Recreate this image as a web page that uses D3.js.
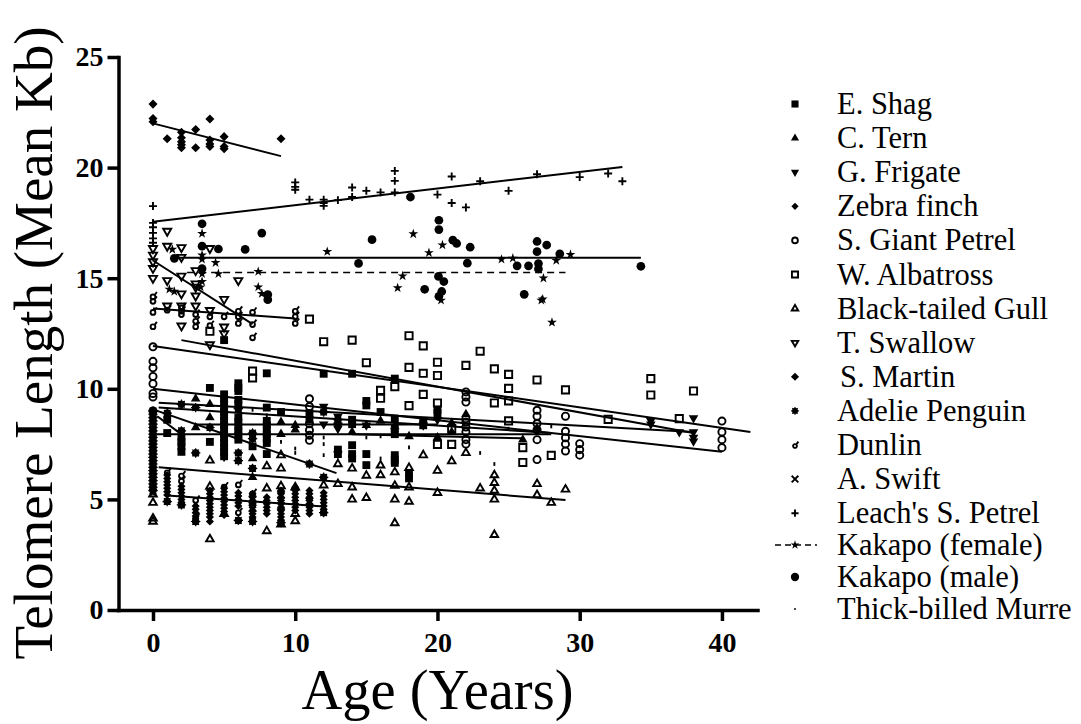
<!DOCTYPE html>
<html>
<head>
<meta charset="utf-8">
<script src="https://cdn.jsdelivr.net/npm/d3@7/dist/d3.min.js"></script>
<style>
    html, body { margin: 0; padding: 0; background: #fff; }
    svg text { font-family: "Liberation Serif", serif; fill: #000; }
</style>
</head>
<body>
<div id="chart"></div>
<script>
// Values, as [age, [mean kb, ...]] columns.
const shag = [
    [1, [8.6, 8.0]], [2, [7.8, 7.6, 7.4, 7.15]], [4, [10.04, 7.6]],
    [5, [12.2, 9.75, 9.55, 9.35, 9.15, 8.95, 8.75, 8.55, 8.35, 8.15, 7.95, 7.75, 7.55, 7.35, 7.15, 6.95]],
    [6, [10.25, 10.05, 9.9, 9.5, 9.3, 8.7, 8.5, 8.3, 8.1, 7.9, 7.7]], [7, [7.4]],
    [8, [10.7, 9.15, 8.55, 8.35, 8.15, 7.95, 7.75, 7.55, 7.05]], [9, [8.95]], [11, [8.9, 8.6]],
    [12, [10.68]], [13, [7.25, 7.05]], [14, [10.68, 8.6, 8.4, 7.45, 7.05, 6.85]],
    [15, [9.45, 9.25, 7.05, 6.55]], [16, [8.95]], [17, [10.46, 8.65, 8.2, 7.95, 7.0, 6.8, 6.65]],
    [18, [6.2, 5.95]], [19, [8.55, 8.35]], [20, [9.05, 8.9]],
]
const tern = [
    [3, [9.55, 8.25]], [4, [9.3, 8.7]], [7, [6.85, 6.0]], [9, [8.5, 7.95]], [10, [8.35, 8.15]],
    [14, [8.05]], [15, [8.35]], [16, [8.55]], [17, [8.3]], [18, [7.85]], [20, [7.8]],
    [21, [8.45, 8.05]], [22, [8.85]], [26, [7.7]], [27, [8.2]],
]
const frigate = [
    [12, [9.2, 8.4]], [13, [8.75, 8.35, 8.2, 7.05]], [15, [8.35]], [19, [8.35]], [20, [8.6]],
    [35, [8.55, 8.4]], [37, [8.05]], [38, [8.68, 8.05, 7.8, 7.63]],
]
const zebraFinch = [
    [0, [22.87, 22.22, 22.07]], [1, [21.3]], [2, [21.6, 21.35, 21.17, 21.03, 20.9]], [3, [21.72, 20.9]],
    [4, [22.2, 21.25, 21.07, 20.95]], [5, [21.4, 20.95, 20.85]], [9, [21.3]],
]
const giantPetrel = [
    [0, [11.9, 11.24, 10.95, 10.56, 10.23, 9.79, 9.63, 9.0]],
    [11, [9.55, 9.2, 8.42, 8.13, 7.9, 7.67]],
    [22, [9.86, 9.63, 9.4, 8.65, 8.5, 8.27, 8.05, 7.7, 7.5]],
    [27, [9.03, 8.76, 8.43, 8.15, 7.7, 6.8]],
    [29, [8.76, 8.08, 7.79, 7.5, 7.19]], [30, [7.52, 7.25, 7.0]],
    [40, [8.54, 8.05, 7.7, 7.34]],
]
const albatross = [
    [4, [12.6]], [7, [10.8, 10.49]], [11, [13.15]], [12, [12.13]], [14, [12.2]], [15, [11.18]],
    [16, [9.93, 9.57]], [17, [10.1]], [18, [12.4, 10.97, 9.24]], [19, [11.94, 10.7, 9.75]],
    [20, [11.2, 10.6, 9.36, 7.49]], [21, [8.2, 7.49]], [22, [11.06]], [23, [11.7]], [24, [10.9, 9.36]],
    [25, [10.65, 10.02, 9.45, 8.55]], [26, [7.34, 6.67]], [27, [10.4]], [28, [6.99]], [29, [9.95]],
    [32, [8.62]], [35, [10.46, 9.72]], [37, [8.65]], [38, [9.9]],
]
const gull = [
    [0, [5.23, 4.85, 4.14, 4.0]], [4, [6.76, 5.58, 3.2]], [5, [4.35]], [8, [6.5, 5.5, 3.57]],
    [9, [7.0, 6.4, 5.6, 3.87]], [10, [5.55, 4.35, 4.02]], [12, [5.64]], [13, [6.6, 5.7]],
    [14, [6.4, 5.55, 5.0]], [15, [6.08, 5.07]], [16, [6.54, 6.1]], [17, [6.23, 5.62, 5.0, 3.93]],
    [18, [6.43, 5.55, 4.9]], [19, [7.0]], [20, [6.3, 5.3]], [21, [6.73]], [22, [7.1]], [23, [5.5]],
    [24, [6.1, 5.75, 5.4, 5.0, 3.4]], [27, [5.7, 5.2]], [28, [4.85]], [29, [5.45]],
]
const swallow = [
    [0, [16.35, 16.05, 15.75, 15.45, 15.0]], [1, [17.13, 16.45, 14.9, 13.75]],
    [2, [16.39, 15.95, 15.1, 14.3, 13.75, 12.85]], [3, [15.35, 14.75, 14.6, 14.2, 13.75]],
    [4, [16.35, 13.55, 12.0]], [5, [14.05, 12.8, 12.5]], [6, [14.9]],
]
const martin = [
    [1, [6.1, 5.95, 5.8, 5.65, 5.5, 5.35, 5.2]],
    [2, [5.6, 5.45, 5.3, 5.15, 5.0, 4.85]],
    [3, [4.7, 4.55, 4.4, 4.25]],
    [4, [5.4, 5.25, 5.1, 4.95, 4.8, 4.65, 4.5, 4.35, 4.2, 4.0]],
    [5, [5.5, 5.35, 5.2, 5.05, 4.9, 4.75, 4.6, 4.45, 4.3]],
    [6, [5.3, 5.15, 5.0, 4.85, 4.7]],
    [7, [5.25, 5.1, 4.95, 4.8, 4.65, 4.5, 4.35, 4.2]],
    [8, [5.1, 4.95, 4.8, 4.65, 4.5, 4.35]],
    [9, [5.4, 5.25, 5.1, 4.95, 4.8, 4.65, 4.5, 4.35, 4.2, 4.05]],
    [10, [5.55, 5.4, 5.25, 5.1, 4.95, 4.8, 4.65, 4.5]],
    [11, [5.4, 5.25, 5.1, 4.95, 4.8, 4.65, 4.5, 4.35]],
    [12, [5.3, 5.15, 5.0, 4.85, 4.7, 4.55, 4.42]],
]
const adelie = [
    [0, [9.0, 8.85, 8.7, 8.55, 8.4, 8.25, 8.1, 7.95, 7.8, 7.65, 7.5, 7.35, 7.2, 7.05, 6.9, 6.75, 6.6,
         6.45, 6.3, 6.15, 6.0, 5.85, 5.7, 5.55, 5.4]],
    [1, [8.9, 4.9]], [2, [9.3, 8.1, 4.75]], [3, [9.15, 7.1, 4.0]], [4, [8.25]], [6, [9.1, 7.1, 6.75, 4.05]],
    [7, [8.0, 7.75, 6.4, 4.0]], [9, [3.95]], [11, [6.6]], [12, [8.95, 6.0, 4.4]], [13, [8.6, 8.4]],
]
const dunlin = [
    [0, [14.2, 14.0, 13.5, 12.85]], [1, [13.6, 6.25]], [2, [13.7, 13.55, 13.4, 6.1, 5.87]],
    [3, [13.4, 13.1, 12.85, 5.0, 4.2]], [4, [13.3, 12.9]], [5, [13.3, 5.6]], [6, [13.55, 13.3, 13.0, 5.7, 4.44]],
    [7, [13.5, 12.95, 12.35, 5.3]], [10, [13.55, 13.3, 13.0]],
]
const swift = [[0, [5.3]], [7, [5.0, 4.6]], [9, [5.2, 4.7]], [11, [4.9]]]
const leach = [
    [0, [18.26, 17.5, 17.3, 17.05, 16.8, 16.6]], [10, [19.33, 19.13, 19.0]], [11, [18.55]],
    [12, [18.55, 18.4, 18.27]], [13, [18.53]], [14, [19.1, 18.67]], [15, [18.95]], [16, [18.88]],
    [17, [19.85, 19.4, 18.88]], [20, [18.78]], [21, [19.6, 18.4]], [22, [18.2]], [23, [19.38]],
    [25, [18.95]], [27, [19.7]], [30, [19.57]], [32, [19.73]], [33, [19.38]],
]
const kakapoFemale = [
    [1.15, [14.5]], [1.36, [16.3]], [1.5, [14.4]], [3.35, [14.6]], [3.45, [17.02, 16.04, 15.85, 15.2, 14.85]],
    [4.4, [15.7]], [4.6, [15.2]], [7.4, [15.3, 14.6]], [7.65, [14.3]], [12.25, [16.2]], [17.2, [14.56]],
    [17.55, [15.1]], [18.3, [17.0]], [19.4, [16.15]], [20.25, [14.0]], [20.35, [16.5]], [24.5, [15.85]],
    [25.3, [15.9]], [27.3, [14.0]], [27.4, [14.05]], [27.45, [15.0]], [28.05, [13.0]], [28.35, [15.8]], [29.35, [16.07]],
]
const kakapoMale = [
    [1.5, [15.9]], [3.45, [17.46, 16.45, 15.43]], [4.6, [16.32]], [6.48, [16.3]], [7.65, [17.04]], [8.07, [14.26, 14.03]],
    [14.45, [15.67]], [15.4, [16.74]], [18.1, [18.67]], [19.1, [14.5]], [20.07, [15.08]], [20.1, [17.62, 17.2, 14.18]],
    [20.3, [14.4]], [20.45, [14.85]], [21.08, [16.72]], [21.35, [16.57]], [22.1, [15.68]], [22.3, [16.4]],
    [25.6, [15.56]], [26.1, [14.27]], [26.4, [15.56]], [27, [16.66, 16.2]], [27.1, [15.66, 15.42]], [27.68, [16.5]],
    [28.6, [16.1]], [34.3, [15.54]],
]
const murre = [
    [5, [6.8]], [7, [9.05]], [8, [8.8]], [9, [7.6]], [10, [7.3, 7.1]], [12, [7.8, 7.5, 7.0]], [15, [7.8]],
    [16, [7.85, 6.85]], [18, [7.35]], [23, [7.1]], [24, [6.6]], [25, [8.2]], [28, [8.3]],
]

// Fitted lines, [[age, kb], [age, kb]]
const solidLines = [
    [[0, 22.0], [9, 20.52]],
    [[0, 17.55], [33, 20.03]],
    [[1.3, 15.92], [34.3, 15.92]],
    [[0, 15.8], [7, 12.92]],
    [[0, 13.63], [10, 13.18]],
    [[2, 12.2], [38, 8.0]],
    [[0, 11.94], [42, 8.05]],
    [[0, 10.0], [40, 7.15]],
    [[0.4, 9.37], [38, 8.05]],
    [[0.4, 9.15], [28, 8.0]],
    [[0, 7.94], [28, 7.94]],
    [[3, 8.39], [20, 8.39]],
    [[14, 7.95], [26, 7.76]],
    [[0, 9.07], [12.9, 6.19]],
    [[0.3, 8.76], [2, 7.94]],
    [[0.4, 6.45], [29, 4.97]],
    [[1, 5.18], [12, 4.68]],
]
const dashedLines = [[[2.4, 15.26], [29, 15.26]]]

const xTicks = [0, 10, 20, 30, 40]
const yTicks = [0, 5, 10, 15, 20, 25]

// Glyphs d3 does not ship
const adelieGlyph = {
    draw(ctx, size) {
        const r = Math.sqrt(size / Math.PI)
        ctx.moveTo(r, 0)
        ctx.arc(0, 0, r, 0, 2 * Math.PI)
        for (let i = 0; i < 4; i++) {
            const a = i * Math.PI / 4
            ctx.moveTo(-(r + 1.4) * Math.cos(a), -(r + 1.4) * Math.sin(a))
            ctx.lineTo((r + 1.4) * Math.cos(a), (r + 1.4) * Math.sin(a))
        }
    }
}
const dunlinGlyph = {
    draw(ctx, size) {
        const r = Math.sqrt(size / Math.PI)
        ctx.moveTo(r, 1)
        ctx.arc(0, 1, r, 0, 2 * Math.PI)
        ctx.moveTo(r * 0.6, 1 - r * 0.7)
        ctx.lineTo(r + 1.5, -r - 1.5)
    }
}
const murreGlyph = {
    draw(ctx, size) {
        const h = Math.sqrt(size)
        ctx.moveTo(0, -h / 2)
        ctx.lineTo(0, h / 2)
    }
}

const species = [
    {name: 'E. Shag', data: shag, type: d3.symbolSquare, size: 62, mode: 'fill', legend: 0.9},
    {name: 'C. Tern', data: tern, type: d3.symbolTriangle, size: 40, mode: 'fill', legend: 0.85},
    {name: 'G. Frigate', data: frigate, type: d3.symbolTriangle, size: 40, mode: 'fill', flip: true, legend: 0.85},
    {name: 'Zebra finch', data: zebraFinch, type: d3.symbolDiamond2, size: 52, mode: 'fill', legend: 0.8},
    {name: 'S. Giant Petrel', data: giantPetrel, type: d3.symbolCircle, size: 40, mode: 'open', legend: 0.8},
    {name: 'W. Albatross', data: albatross, type: d3.symbolSquare, size: 52, mode: 'open', legend: 0.85},
    {name: 'Black-tailed Gull', data: gull, type: d3.symbolTriangle, size: 25, mode: 'open', legend: 0.85},
    {name: 'T. Swallow', data: swallow, type: d3.symbolTriangle, size: 28, mode: 'open', flip: true, legend: 0.8},
    {name: 'S. Martin', data: martin, type: d3.symbolDiamond2, size: 42, mode: 'fill', legend: 1},
    {name: 'Adelie Penguin', data: adelie, type: adelieGlyph, size: 34, mode: 'both', legend: 0.75},
    {name: 'Dunlin', data: dunlin, type: dunlinGlyph, size: 18, mode: 'open', legend: 0.8},
    {name: 'A. Swift', data: swift, type: d3.symbolTimes, size: 28, mode: 'cross', legend: 0.9},
    {name: "Leach's S. Petrel", data: leach, type: d3.symbolCross, size: 22, mode: 'plus', legend: 0.9},
    {name: 'Kakapo (female)', data: kakapoFemale, type: d3.symbolStar, size: 30, mode: 'fill', dashed: true, legend: 0.9},
    {name: 'Kakapo (male)', data: kakapoMale, type: d3.symbolCircle, size: 60, mode: 'fill', legend: 0.95},
    {name: 'Thick-billed Murre', data: murre, type: murreGlyph, size: 14, mode: 'tick', legend: 0.45},
]

const width = 1081, height = 724

const x = d3.scaleLinear().domain([-2.46, 42.5]).range([118, 757.5])
const y = d3.scaleLinear().domain([0, 25]).range([610, 57])

const svg = d3.select('#chart').append('svg')
    .attr('width', width)
    .attr('height', height)
    .style('display', 'block')

function styleGlyph(sel, s) {
    const filled = s.mode === 'fill' || s.mode === 'both'
    sel.attr('fill', filled ? '#000' : 'none')
        .attr('stroke', s.mode === 'fill' ? 'none' : '#000')
        .attr('stroke-width', s.mode === 'both' ? 1.2 : 1.9)
}

function glyphPath(s, scale) {
    if (s.mode === 'plus') {
        const h = Math.sqrt(s.size) * scale * 0.85
        return `M${-h},0H${h}M0,${-h}V${h}`
    }
    if (s.mode === 'cross') {
        const h = Math.sqrt(s.size) * scale * 0.7
        return `M${-h},${-h}L${h},${h}M${-h},${h}L${h},${-h}`
    }
    return d3.symbol().type(s.type).size(s.size * scale * scale)()
}

// Points
species.forEach(s => {
    const points = s.data.flatMap(([age, values]) => values.map(kb => ({age, kb})))
    svg.append('g')
        .attr('class', 'species')
        .selectAll('path')
        .data(points)
        .join('path')
        .attr('d', glyphPath(s, 1))
        .attr('transform', d => `translate(${x(d.age)},${y(d.kb)})${s.flip ? ' scale(1,-1)' : ''}`)
        .call(styleGlyph, s)
})

// Fitted lines over the points
const line = d3.line().x(d => x(d[0])).y(d => y(d[1]))
svg.append('g').selectAll('path').data(solidLines).join('path')
    .attr('d', line).attr('fill', 'none').attr('stroke', '#000').attr('stroke-width', 2)
svg.append('g').selectAll('path').data(dashedLines).join('path')
    .attr('d', line).attr('fill', 'none').attr('stroke', '#000').attr('stroke-width', 1.6)
    .attr('stroke-dasharray', '7,5')

// Axes
const xAxis = d3.axisBottom(x).tickValues(xTicks).tickSize(11).tickSizeOuter(0).tickPadding(11)
const yAxis = d3.axisLeft(y).tickValues(yTicks).tickSize(11).tickSizeOuter(0).tickPadding(4)

const gx = svg.append('g').attr('transform', 'translate(0,610)').call(xAxis)
const gy = svg.append('g').attr('transform', 'translate(118.5,0)').call(yAxis)
;[gx, gy].forEach(g => {
    g.select('.domain').attr('stroke-width', 3.5).attr('stroke-linecap', 'square')
    g.selectAll('.tick line').attr('stroke-width', 3.5)
    g.selectAll('.tick text')
        .attr('font-family', '"Liberation Serif", serif')
        .attr('font-size', 28)
        .attr('font-weight', 'bold')
})

svg.append('text')
    .attr('x', 437.5).attr('y', 709)
    .attr('text-anchor', 'middle')
    .attr('font-size', 56.5)
    .text('Age (Years)')
svg.append('text')
    .attr('transform', 'translate(52,343) rotate(-90)')
    .attr('text-anchor', 'middle')
    .attr('font-size', 55)
    .text('Telomere Length (Mean Kb)')

// Legend: rows tighten a little after Leach's S. Petrel
const legendY = i => i <= 12 ? 104 + 34.1 * i : 513 + 32 * (i - 12)
const legend = svg.append('g').selectAll('g').data(species).join('g')
    .attr('transform', (d, i) => `translate(795,${legendY(i)})`)

legend.append('text')
    .attr('x', d => d.name === 'S. Martin' ? 45 : 42)
    .attr('y', 10)
    .attr('font-size', 30.5)
    .text(d => d.name)
legend.filter(d => d.dashed).append('line')
    .attr('x1', -20).attr('x2', 22)
    .attr('stroke', '#000').attr('stroke-width', 1.5).attr('stroke-dasharray', '6,4')
legend.each(function (s) {
    d3.select(this).append('path')
        .attr('d', glyphPath(s, s.legend))
        .attr('transform', s.flip ? 'scale(1,-1)' : null)
        .call(styleGlyph, s)
})
</script>
</body>
</html>
